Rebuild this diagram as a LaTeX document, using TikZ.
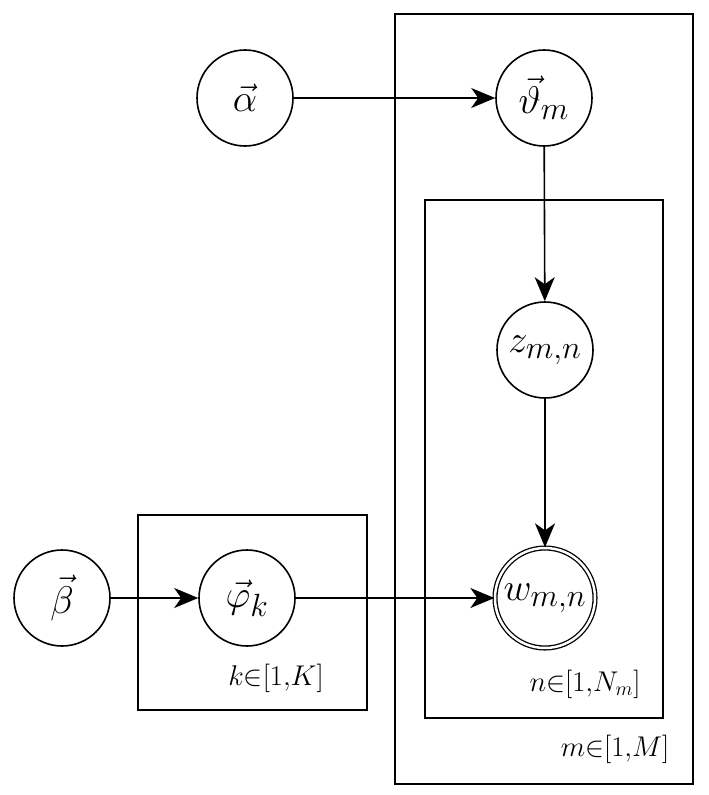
\documentclass[tikz,border=0pt]{standalone}
\usepackage{graphicx}
\usetikzlibrary{arrows.meta}
\newcommand{\vtxt}[1]{\scalebox{1.55}{\fontsize{24.88}{28}\selectfont$#1$}}
\newcommand{\ltxt}[1]{\scalebox{1.65}{\fontsize{17.28}{20}\selectfont$#1$}}
\begin{document}
\begin{tikzpicture}[x=1pt,y=-1pt,
  var/.style={circle,draw,line width=1.6pt,minimum size=96pt,inner sep=0pt},
  obs/.style={var,double,double distance=2.5pt,line width=1.3pt,minimum size=100pt},
  plate/.style={draw,line width=1.8pt},
  lab/.style={inner sep=0pt},
  arr/.style={line width=1.6pt,-{Stealth[length=24pt,width=20pt,inset=7pt]}}]
\useasboundingbox (0,0) rectangle (709,795);
\draw[plate] (395,14) rectangle (693,784);
\draw[plate] (425,200) rectangle (663,718);
\draw[plate] (138,515) rectangle (367,710);
\node[var] (alpha) at (245,98) {\vtxt{\vec{\alpha}}};
\node[var] (theta) at (544,98) {\vtxt{\vec{\vartheta}_m}};
\node[var] (z) at (545,350) {\vtxt{z_{m,n}}};
\node[obs] (w) at (545,598) {\vtxt{w_{m,n}}};
\node[var] (beta) at (62,598) {\vtxt{\vec{\beta}}};
\node[var] (phi) at (247,598) {\vtxt{\vec{\varphi}_k}};
\node[lab] (lk) at (276,678) {\ltxt{k{\in}[1{,}K]}};
\node[lab] (ln) at (585,684) {\ltxt{n{\in}[1{,}N_m]}};
\node[lab] (lm) at (615,749) {\ltxt{m{\in}[1{,}M]}};
\draw[arr] (alpha) -- (theta);
\draw[arr] (theta) -- (z);
\draw[arr] (z) -- (w);
\draw[arr] (beta) -- (phi);
\draw[arr] (phi) -- (w);
\end{tikzpicture}
\end{document}
